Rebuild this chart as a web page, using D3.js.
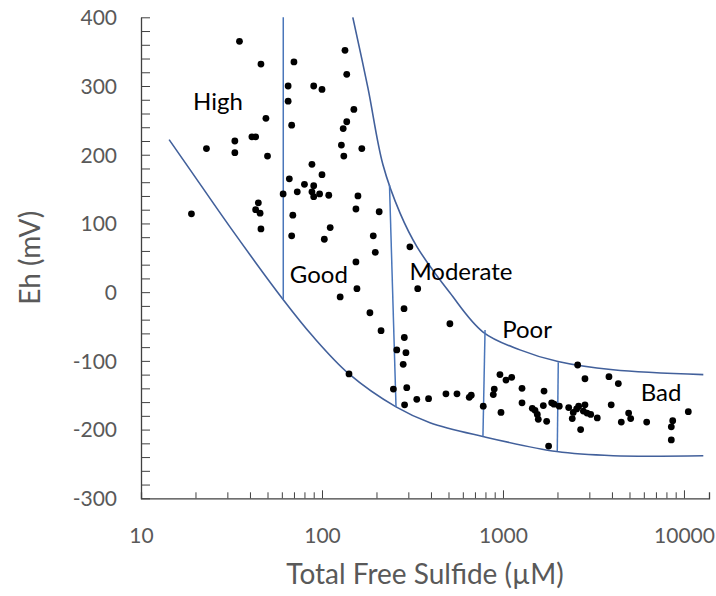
<!DOCTYPE html>
<html>
<head>
<meta charset="utf-8">
<script src="https://cdn.jsdelivr.net/npm/d3@7"></script>
<style>
  html, body { margin: 0; padding: 0; background: #ffffff; }
  svg { display: block; }
</style>
</head>
<body>
<svg id="chart" width="716" height="596"></svg>
<script>
// ---------------- data ----------------
const sulfide = [35, 46, 70, 134, 137, 65, 90, 100, 65, 150, 49, 68, 137, 131, 23, 33, 41, 43, 33, 50,
  128, 166, 132, 88, 100, 66, 80, 90, 88, 97, 90, 73, 61, 109, 158, 154, 207, 44.5, 43, 45.5,
  46, 19, 69, 111, 68, 103, 192, 197, 306, 154, 156, 338, 126, 184, 284, 509, 212, 285, 259, 291,
  281, 141, 248, 294, 286, 334, 388, 484, 557, 651, 668, 778, 895, 884, 962, 1039, 1117, 975, 1274, 1274,
  1452, 1503, 1548, 1567, 1686, 1671, 1743, 1858, 1914, 1787, 2046, 2586, 2838, 2307, 2445, 2414, 2553, 2618, 2838, 2780,
  2912, 3053, 2685, 3319, 3851, 4339, 3963, 4505, 4946, 5076, 6223, 8665, 8511, 8511, 10566];
const eh = [365, 332, 335, 352, 317, 300, 300, 295, 278, 266, 253, 243, 248, 238, 209, 220, 226, 226, 203, 198,
  214, 209, 198, 186, 171, 165, 157, 155, 146, 143, 139, 146, 143, 141, 140, 121, 117, 130, 120, 115,
  92, 114, 112, 94, 82, 77, 82, 58, 66, 44, 5, 5, -7, -30, -24, -46, -56, -66, -84, -88,
  -105, -119, -141, -139, -164, -156, -155, -148, -148, -153, -150, -166, -141, -149, -120, -128, -124, -175, -140, -161,
  -169, -172, -178, -185, -144, -165, -188, -161, -163, -224, -166, -106, -126, -168, -175, -184, -170, -166, -164, -173,
  -176, -178, -200, -183, -123, -133, -164, -189, -176, -184, -189, -187, -196, -215, -174];

// boundary curves
const upperX = [148, 179.5, 217.4, 270, 335, 509, 776, 1241, 2014, 4055, 12790];
const upperY = [400, 297, 185, 115, 66, -1, -58, -84, -101, -113, -120];
const lowerX = [14.3, 18.7, 31, 61.1, 89.5, 141, 256.5, 395, 773, 1982, 4064, 12790];
const lowerY = [222, 178, 95, -11, -65, -119, -167, -190, -210, -232, -238, -238];

// zone dividers (top point -> bottom point)
const dividerX1 = [61.1, 236, 796, 2021];
const dividerY1 = [400, 156, -55, -102];
const dividerX2 = [61.1, 256.5, 775, 1995];
const dividerY2 = [-11, -167, -210, -231];

// zone labels
const zoneNames = ["High", "Good", "Moderate", "Poor", "Bad"];
const zoneX = [26.6, 96.1, 586, 1358, 7465];
const zoneY = [265, 14, 18, -67, -159];

// axis ticks
const xMajorTicks = [10, 100, 1000, 10000];
const yTicks = [-300, -280, -260, -240, -220, -200, -180, -160, -140, -120, -100, -80, -60, -40, -20,
  0, 20, 40, 60, 80, 100, 120, 140, 160, 180, 200, 220, 240, 260, 280, 300, 320, 340, 360, 380, 400];
const yLabelTicks = [-300, -200, -100, 0, 100, 200, 300, 400];
const xTitle = "Total Free Sulfide (\u00B5M)";
const yTitle = "Eh (mV)";

// ---------------- drawing ----------------
(function () {
const svg = d3.select("#chart");
const FONT = "Lato, 'Open Sans', sans-serif";
const pLeft = 141, pRight = 709, pTop = 17.3, pBottom = 498.3;

const x = d3.scaleLog().domain([10, 13750]).range([pLeft, pRight]);
const y = d3.scaleLinear().domain([-300, 400]).range([pBottom, pTop]);

// curves
const curveLine = d3.line().x(d => x(d[0])).y(d => y(d[1])).curve(d3.curveCatmullRom.alpha(0.5));
const curveColor = "#42609b";
const divColor = "#4a76ba";

svg.append("path")
  .attr("d", curveLine(upperX.map((v, i) => [v, upperY[i]])))
  .attr("fill", "none").attr("stroke", curveColor).attr("stroke-width", 1.6);
svg.append("path")
  .attr("d", curveLine(lowerX.map((v, i) => [v, lowerY[i]])))
  .attr("fill", "none").attr("stroke", curveColor).attr("stroke-width", 1.6);

svg.selectAll("line.div").data(dividerX1).enter().append("line")
  .attr("class", "div")
  .attr("x1", (d, i) => x(d)).attr("y1", (d, i) => y(dividerY1[i]))
  .attr("x2", (d, i) => x(dividerX2[i])).attr("y2", (d, i) => y(dividerY2[i]))
  .attr("stroke", divColor).attr("stroke-width", 1.5);

// axes
const xAxis = d3.axisBottom(x)
  .tickValues(x.ticks())
  .tickSizeInner(-6).tickSizeOuter(-6)
  .tickFormat(d => xMajorTicks.includes(d) ? String(d) : "");
const gx = svg.append("g").attr("transform", `translate(0,${pBottom})`).call(xAxis);
gx.select(".domain").attr("stroke", "#404040").attr("stroke-width", 1.3);
gx.selectAll(".tick line").attr("stroke", "#404040").attr("stroke-width", 1)
  .attr("y2", d => xMajorTicks.includes(d) && d !== 10 ? -8 : -6);
gx.selectAll(".tick text").attr("y", 34).attr("dy", "0.5em")
  .attr("fill", "#595959").attr("font-family", FONT).attr("font-size", 21);

const yAxis = d3.axisLeft(y)
  .tickValues(yTicks)
  .tickSizeInner(-9).tickSizeOuter(0)
  .tickFormat(d => yLabelTicks.includes(d) ? String(d) : "");
const gy = svg.append("g").attr("transform", `translate(${pLeft},0)`).call(yAxis);
gy.select(".domain").attr("stroke", "#404040").attr("stroke-width", 1.3);
gy.selectAll(".tick line").attr("stroke", "#404040").attr("stroke-width", 1);
gy.selectAll(".tick text").attr("x", -24).attr("dy", "0.35em")
  .attr("fill", "#595959").attr("font-family", FONT).attr("font-size", 21);

// points
svg.append("g").selectAll("circle").data(sulfide).enter().append("circle")
  .attr("cx", d => x(d)).attr("cy", (d, i) => y(eh[i])).attr("r", 3.4)
  .attr("fill", "#000000");

// zone labels
svg.append("g").selectAll("text").data(zoneNames).enter().append("text")
  .attr("x", (d, i) => x(zoneX[i])).attr("y", (d, i) => y(zoneY[i]))
  .attr("text-anchor", "middle")
  .attr("font-family", FONT).attr("font-size", 24).attr("fill", "#000000")
  .text(d => d);

// axis titles
svg.append("text")
  .attr("x", (pLeft + pRight) / 2).attr("y", 584)
  .attr("text-anchor", "middle")
  .attr("font-family", FONT).attr("font-size", 28).attr("fill", "#595959")
  .text(xTitle);
svg.append("text")
  .attr("transform", `translate(40,${(pTop + pBottom) / 2}) rotate(-90)`)
  .attr("text-anchor", "middle")
  .attr("font-family", FONT).attr("font-size", 28).attr("fill", "#595959")
  .text(yTitle);
})();
</script>
</body>
</html>
